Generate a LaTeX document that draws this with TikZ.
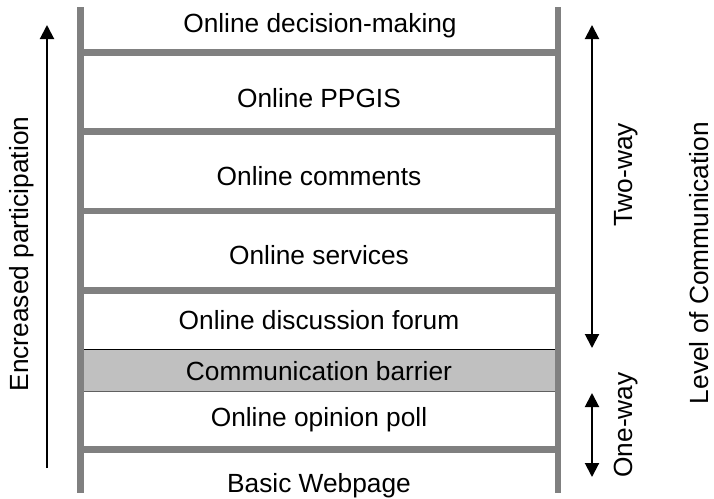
\documentclass[tikz,border=0pt]{standalone}
\usepackage{fontspec}
\setmainfont{Liberation Sans}
\usetikzlibrary{arrows.meta}
\definecolor{railgray}{HTML}{808080}
\definecolor{barriergray}{HTML}{C0C0C0}
\definecolor{barrierline}{HTML}{606060}
\begin{document}
\begin{tikzpicture}[x=1pt,y=-1pt,
  lbl/.style={inner sep=0pt, anchor=base, font=\fontsize{26.3}{30}\selectfont},
  vlbl/.style={lbl, rotate=90},
  rail/.style={draw=railgray, line width=6.5pt},
  rung/.style={draw=railgray, line width=6.5pt},
  arr/.style={line width=2pt, -{Triangle[width=14pt,length=14pt]}},
  darr/.style={line width=2pt, {Triangle[width=14pt,length=14pt]}-{Triangle[width=14pt,length=14pt]}}]
\useasboundingbox (0,0) rectangle (714,498);
% barrier band
\fill[barriergray] (80,349.5) rectangle (558,391.5);
\draw[black, line width=1pt] (80,349.5) -- (558,349.5);
\draw[barrierline, line width=1.5pt] (80,391.5) -- (558,391.5);
% rungs
\foreach \y in {52.5,131.5,211,290.5,449.5} \draw[rung] (80,\y) -- (558,\y);
% rails
\draw[rail] (80.5,7) -- (80.5,493);
\draw[rail] (558,7) -- (558,493);
% labels
\node[lbl] (l1) at (320,32) {Online decision-making};
\node[lbl] (l2) at (319,107) {Online PPGIS};
\node[lbl] (l3) at (319,185) {Online comments};
\node[lbl] (l4) at (319,264) {Online services};
\node[lbl] (l5) at (319,329) {Online discussion forum};
\node[lbl] (l6) at (319,380) {Communication barrier};
\node[lbl] (l7) at (319,426) {Online opinion poll};
\node[lbl] (l8) at (319,492) {Basic Webpage};
% left side
\coordinate (pb) at (47,468);
\coordinate (pt) at (47,25);
\draw[arr] (pb) -- (pt);
\node[vlbl] (ep) at (28,254) {Encreased participation};
% right side
\coordinate (tw1) at (592,25);
\coordinate (tw2) at (592,348);
\draw[darr] (tw1) -- (tw2);
\coordinate (ow1) at (592,393);
\coordinate (ow2) at (592,477);
\draw[darr] (ow1) -- (ow2);
\node[vlbl] (two) at (632,175) {Two-way};
\node[vlbl] (one) at (632,425) {One-way};
\node[vlbl] (loc) at (708,263) {Level of Communication};
\end{tikzpicture}
\end{document}
